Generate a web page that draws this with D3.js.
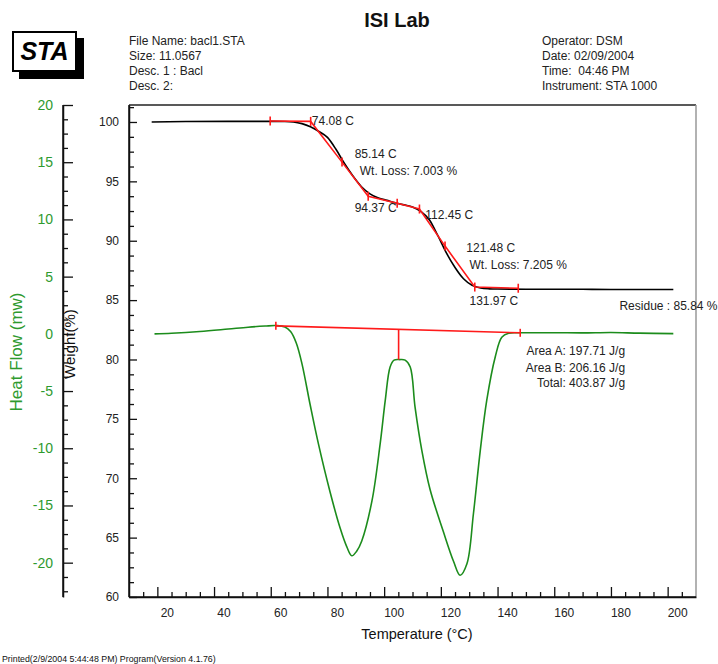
<!DOCTYPE html>
<html>
<head>
<meta charset="utf-8">
<script src="https://cdn.jsdelivr.net/npm/d3@7"></script>
<style>
  html, body { margin: 0; padding: 0; background: #fff; }
  svg { display: block; font-family: "Liberation Sans", Arial, sans-serif; }
</style>
</head>
<body>
<svg id="chart" width="718" height="664"></svg>
<script>
// ---------------- data ----------------
const headerLeft = ["File Name: bacl1.STA", "Size: 11.0567", "Desc. 1 : Bacl", "Desc. 2:"];
const headerRight = ["Operator: DSM", "Date: 02/09/2004", "Time:  04:46 PM", "Instrument: STA 1000"];

const xTicksMajor = [20, 40, 60, 80, 100, 120, 140, 160, 180, 200];
const weightTicksMajor = [60, 65, 70, 75, 80, 85, 90, 95, 100];
const heatTicksMajor = [-20, -15, -10, -5, 0, 5, 10, 15, 20];

// TGA weight curve (black)
const weightTemp = [18, 30, 45, 60, 65, 68, 71, 74, 77, 80, 83, 86, 89, 92, 95, 98, 101, 104, 107, 110, 113, 116, 119, 122, 125, 128, 131, 134, 137, 140, 150, 160, 170, 180, 190, 202];
const weightPct  = [100.0, 100.04, 100.05, 100.05, 100.04, 100.0, 99.86, 99.6, 99.2, 98.7, 97.7, 96.5, 95.45, 94.55, 93.95, 93.6, 93.4, 93.2, 93.02, 92.85, 92.45, 91.75, 90.4, 88.95, 87.75, 86.8, 86.25, 86.02, 85.95, 85.93, 85.92, 85.92, 85.91, 85.9, 85.9, 85.9];

// Red step-analysis line on the weight curve, with tick marks
const fitTemp = [59.8, 74.08, 85.14, 94.37, 104.6, 112.45, 121.48, 131.97, 147.3];
const fitPct  = [100.08, 100.05, 96.62, 93.75, 93.15, 92.67, 89.55, 86.1, 86.0];

// DSC heat flow curve (green)
const heatTemp = [19, 25, 35, 45, 52, 58, 62, 65, 67, 69, 71, 73.9, 76.8, 80.9, 84.5, 86.8, 88.6, 90.3, 92.1, 95.7, 98.6, 100.4, 102.1, 103.5, 105.5, 107.4, 109.2, 110.9, 113.3, 116.2, 120.9, 124.5, 126.8, 129.2, 131.5, 133.9, 136.2, 139.2, 141.5, 143.9, 148, 160, 170, 180, 190, 202];
const heatFlow = [0.0, 0.05, 0.2, 0.42, 0.58, 0.68, 0.72, 0.6, 0.2, -0.8, -2.6, -6.2, -9.6, -13.8, -17.0, -18.6, -19.4, -19.0, -18.1, -14.6, -9.6, -5.8, -2.9, -2.3, -2.25, -2.3, -2.9, -6.4, -10.2, -13.6, -17.3, -19.9, -21.1, -20.1, -15.7, -10.2, -5.8, -2.0, -0.3, 0.05, 0.09, 0.1, 0.08, 0.12, 0.06, 0.02];

// Red baseline for the DSC peaks and the split line
const baseTemp = [61.8, 148];
const baseFlow = [0.7, 0.09];
const splitTemp = 105.1;
const splitBottom = -2.25;

// annotations: [temperature, weight%, text]
const weightNotes = [
  [74.5, 99.75, "74.08 C"],
  [89.6, 96.93, "85.14 C"],
  [91.4, 95.5, "Wt. Loss: 7.003 %"],
  [89.6, 92.4, "94.37 C"],
  [114.5, 91.85, "112.45 C"],
  [129.0, 89.05, "121.48 C"],
  [130.1, 87.65, "Wt. Loss: 7.205 %"],
  [130.1, 84.6, "131.97 C"],
  [183.0, 84.18, "Residue : 85.84 %"]
];
const areaNotes = [
  [185.0, -1.85, "Area A: 197.71 J/g"],
  [185.0, -3.3, "Area B: 206.16 J/g"],
  [185.0, -4.65, "Total: 403.87 J/g"]
];

// ---------------- drawing ----------------
const svg = d3.select("#chart");
const plotL = 129, plotR = 696, plotT = 105, plotB = 597;

const x = d3.scaleLinear().domain([10, 210]).range([plotL, plotR]);
const yW = d3.scaleLinear().domain([60, 101.43]).range([plotB, plotT]);
const yH = d3.scaleLinear().domain([-23, 20]).range([plotB, plotT]);

const green = "#1c8c1c";
const greenText = "#2e9a2e";
const red = "#ff1a1a";
const txt = "#222";

// Title and header
svg.append("text").attr("x", 397).attr("y", 27).attr("text-anchor", "middle")
  .attr("font-size", 20).attr("font-weight", "bold").attr("fill", "#111").text("ISI Lab");

svg.append("g").selectAll("text").data(headerLeft).join("text")
  .attr("x", 129).attr("y", (d, i) => 44.5 + i * 15.3)
  .attr("font-size", 12).attr("fill", txt).text(d => d);
svg.append("g").selectAll("text").data(headerRight).join("text")
  .attr("x", 542).attr("y", (d, i) => 44.5 + i * 15.3)
  .attr("font-size", 12).attr("fill", txt).attr("xml:space", "preserve").text(d => d);

// STA logo
svg.append("rect").attr("x", 19).attr("y", 38).attr("width", 65).attr("height", 41).attr("fill", "#000");
svg.append("rect").attr("x", 13).attr("y", 32).attr("width", 63).attr("height", 39)
  .attr("fill", "#fff").attr("stroke", "#000").attr("stroke-width", 2);
svg.append("text").attr("x", 44.5).attr("y", 60).attr("text-anchor", "middle")
  .attr("font-size", 25).attr("font-weight", "bold").attr("font-style", "italic").attr("fill", "#000").text("STA");

// Plot frame: top and right borders
svg.append("line").attr("x1", plotL).attr("x2", plotR).attr("y1", plotT).attr("y2", plotT)
  .attr("stroke", "#222").attr("stroke-width", 1.5);
svg.append("line").attr("x1", plotR).attr("x2", plotR).attr("y1", plotT).attr("y2", plotB)
  .attr("stroke", "#999").attr("stroke-width", 1.5);

function styleAxis(g, color, labelColor) {
  g.selectAll("path.domain").attr("stroke", color).attr("stroke-width", 1.5);
  g.selectAll(".tick line").attr("stroke", color).attr("stroke-width", 1.3);
  g.selectAll(".tick text").attr("fill", labelColor);
}

const plainFmt = d => String(d);

// minor tick values
const xMinor = d3.range(15, 210, 5).filter(v => v % 20 !== 0);
const wMinor = d3.range(61.25, 101.3, 1.25).filter(v => Math.abs(v / 5 - Math.round(v / 5)) > 1e-6);
const hMinor = d3.range(-22.5, 20, 1.25).filter(v => Math.abs(v / 5 - Math.round(v / 5)) > 1e-6);

// Heat flow axis (far left, green labels)
const hAxisX = 63;
const gHm = svg.append("g").attr("transform", `translate(${hAxisX},0)`)
  .call(d3.axisLeft(yH).tickValues(hMinor).tickSizeInner(-5).tickSizeOuter(0).tickFormat(""));
styleAxis(gHm, "#111", greenText);
const gH = svg.append("g").attr("transform", `translate(${hAxisX},0)`)
  .call(d3.axisLeft(yH).tickValues(heatTicksMajor).tickSizeInner(-10).tickSizeOuter(0).tickPadding(10).tickFormat(plainFmt));
gH.selectAll("text").attr("font-size", 14).attr("font-family", "Liberation Sans, Arial, sans-serif");
styleAxis(gH, "#111", greenText);
gH.select("path.domain").attr("d", `M0,${plotT}V${plotB}`);

// Weight axis
const gWm = svg.append("g").attr("transform", `translate(${plotL},0)`)
  .call(d3.axisLeft(yW).tickValues(wMinor).tickSizeInner(-5).tickSizeOuter(0).tickFormat(""));
styleAxis(gWm, "#111", txt);
const gW = svg.append("g").attr("transform", `translate(${plotL},0)`)
  .call(d3.axisLeft(yW).tickValues(weightTicksMajor).tickSizeInner(-8).tickSizeOuter(0).tickPadding(10).tickFormat(plainFmt));
gW.selectAll("text").attr("font-size", 12).attr("font-family", "Liberation Sans, Arial, sans-serif");
styleAxis(gW, "#111", txt);
gW.select("path.domain").attr("d", `M0,${plotT}V${plotB}`);

// X axis
const gXm = svg.append("g").attr("transform", `translate(0,${plotB})`)
  .call(d3.axisBottom(x).tickValues(xMinor).tickSizeInner(-5).tickSizeOuter(0).tickFormat(""));
styleAxis(gXm, "#111", txt);
const gX = svg.append("g").attr("transform", `translate(0,${plotB})`)
  .call(d3.axisBottom(x).tickValues(xTicksMajor).tickSizeInner(-10).tickSizeOuter(0).tickPadding(11).tickFormat(plainFmt));
gX.selectAll("text").attr("font-size", 12).attr("x", 9.5).attr("font-family", "Liberation Sans, Arial, sans-serif");
styleAxis(gX, "#111", txt);
gX.select("path.domain").attr("d", `M${plotL},0H${plotR}`);

// Axis titles
svg.append("text").attr("transform", "translate(21.5,352) rotate(-90)").attr("text-anchor", "middle")
  .attr("font-size", 17).attr("fill", greenText).text("Heat Flow (mw)");
svg.append("text").attr("transform", "translate(74.5,344) rotate(-90)").attr("text-anchor", "middle")
  .attr("font-size", 15).attr("fill", "#111").text("Weight(%)");
svg.append("text").attr("x", 417).attr("y", 639).attr("text-anchor", "middle")
  .attr("font-size", 14.5).attr("fill", "#111").text("Temperature (°C)");

// Footer
svg.append("text").attr("x", 2).attr("y", 662).attr("font-size", 8.8).attr("fill", "#111")
  .text("Printed(2/9/2004 5:44:48 PM) Program(Version 4.1.76)");

// Curves
const wLine = d3.line().x(d => x(d[0])).y(d => yW(d[1])).curve(d3.curveMonotoneX);
const hLine = d3.line().x(d => x(d[0])).y(d => yH(d[1])).curve(d3.curveCatmullRom.alpha(0.5));

svg.append("path").datum(d3.zip(weightTemp, weightPct)).attr("d", wLine)
  .attr("fill", "none").attr("stroke", "#000").attr("stroke-width", 1.6);

svg.append("path").datum(d3.zip(heatTemp, heatFlow)).attr("d", hLine)
  .attr("fill", "none").attr("stroke", green).attr("stroke-width", 1.6);

// Red fit on weight curve
const fitPts = d3.zip(fitTemp, fitPct);
svg.append("path").datum(fitPts)
  .attr("d", d3.line().x(d => x(d[0])).y(d => yW(d[1])))
  .attr("fill", "none").attr("stroke", red).attr("stroke-width", 1.6);
svg.append("g").selectAll("line").data(fitPts).join("line")
  .attr("x1", d => x(d[0])).attr("x2", d => x(d[0]))
  .attr("y1", d => yW(d[1]) - 4.5).attr("y2", d => yW(d[1]) + 4.5)
  .attr("stroke", red).attr("stroke-width", 1.6);

// Red baseline on DSC
const basePts = d3.zip(baseTemp, baseFlow);
svg.append("path").datum(basePts)
  .attr("d", d3.line().x(d => x(d[0])).y(d => yH(d[1])))
  .attr("fill", "none").attr("stroke", red).attr("stroke-width", 1.6);
svg.append("g").selectAll("line").data(basePts).join("line")
  .attr("x1", d => x(d[0])).attr("x2", d => x(d[0]))
  .attr("y1", d => yH(d[1]) - 4).attr("y2", d => yH(d[1]) + 4)
  .attr("stroke", red).attr("stroke-width", 1.6);
const baseAt = d3.scaleLinear().domain(baseTemp).range(baseFlow);
svg.append("line").attr("x1", x(splitTemp)).attr("x2", x(splitTemp))
  .attr("y1", yH(baseAt(splitTemp))).attr("y2", yH(splitBottom))
  .attr("stroke", red).attr("stroke-width", 1.6);

// Annotations
svg.append("g").selectAll("text").data(weightNotes).join("text")
  .attr("x", d => x(d[0])).attr("y", d => yW(d[1]))
  .attr("font-size", 12).attr("fill", txt).text(d => d[2]);
svg.append("g").selectAll("text").data(areaNotes).join("text")
  .attr("x", d => x(d[0])).attr("y", d => yH(d[1])).attr("text-anchor", "end")
  .attr("font-size", 12).attr("fill", txt).text(d => d[2]);
</script>
</body>
</html>
